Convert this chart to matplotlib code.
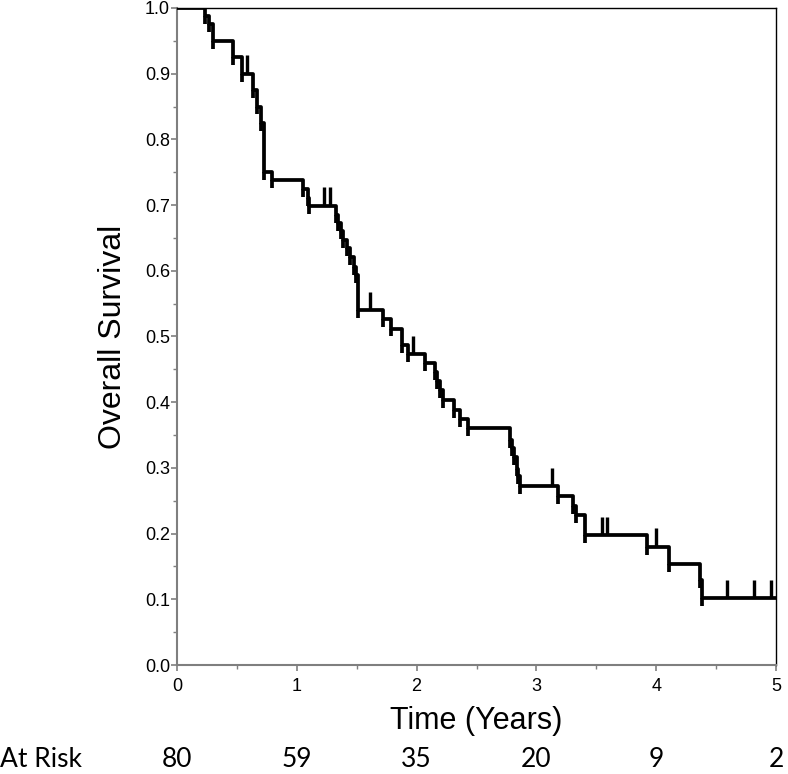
import numpy as np
import matplotlib.pyplot as plt
from matplotlib.transforms import blended_transform_factory

# Kaplan-Meier steps (time in years, survival after the drop)
times = [0, 0.234, 0.27, 0.30, 0.465, 0.54, 0.637, 0.67, 0.70, 0.725,
         0.795, 1.05, 1.09, 1.105, 1.327, 1.347, 1.366, 1.383, 1.416, 1.444,
         1.477, 1.494, 1.513, 1.72, 1.79, 1.88, 1.93, 2.07, 2.15, 2.17,
         2.195, 2.22, 2.31, 2.36, 2.43, 2.78, 2.80, 2.81, 2.84, 2.85,
         2.863, 3.18, 3.308, 3.33, 3.406, 3.92, 4.11, 4.366, 4.38]
surv = [1.0, 0.9875, 0.975, 0.95, 0.925, 0.90, 0.875, 0.85, 0.825, 0.75,
        0.7375, 0.724, 0.711, 0.699, 0.685, 0.672, 0.66, 0.647, 0.634, 0.621,
        0.606, 0.594, 0.540, 0.526, 0.512, 0.487, 0.473, 0.459, 0.446, 0.432,
        0.418, 0.403, 0.388, 0.375, 0.360, 0.342, 0.330, 0.317, 0.299, 0.287,
        0.272, 0.257, 0.242, 0.228, 0.198, 0.180, 0.154, 0.129, 0.1015]
end_time = 5.0

# censored observations
censor_times = [0.585, 1.23, 1.28, 1.61, 1.97, 3.13, 3.55, 3.59, 4.00, 4.59, 4.82, 4.96]

# number at risk
risk_times = [0, 1, 2, 3, 4, 5]
at_risk = [80, 59, 35, 20, 9, 2]

t = np.array(times + [end_time])
s = np.array(surv + [surv[-1]])

fig = plt.figure(figsize=(7.88, 7.74), dpi=100)
ax = fig.add_axes([0.2246, 0.1408, 0.7602, 0.8489])

lw = 2.7
ax.step(t, s, where='post', color='black', lw=lw, solid_capstyle='butt', zorder=3)

# small overshoot below each drop, as in the original rendering
ax.vlines(times[1:], np.array(surv[1:]) - 0.012, surv[1:], color='black', lw=lw, zorder=3)

# censor ticks drawn upward from the curve
idx = np.searchsorted(times, censor_times, side='right') - 1
cens_s = np.array(surv)[idx]
ax.vlines(censor_times, cens_s, cens_s + 0.028, color='black', lw=lw * 0.9, zorder=3)

ax.set_xlim(0, 5)
ax.set_ylim(0, 1.0)
ax.set_xticks(np.arange(0, 6, 1))
ax.set_xticks(np.arange(0.5, 5, 1), minor=True)
ax.set_yticks(np.arange(0, 1.01, 0.1))
ax.set_yticks(np.arange(0.05, 1.0, 0.1), minor=True)
ax.set_yticklabels([f"{v:.1f}" for v in np.arange(0, 1.01, 0.1)])

for side in ['left', 'bottom']:
    ax.spines[side].set_color('#7f7f7f')
    ax.spines[side].set_linewidth(1.5)
for side in ['top', 'right']:
    ax.spines[side].set_color('black')
    ax.spines[side].set_linewidth(1.0)

ax.tick_params(which='major', direction='out', length=4, width=1.2, color='#7f7f7f',
               labelsize=13)
ax.tick_params(axis='y', which='major', pad=1)
ax.tick_params(axis='x', which='major', pad=5)
ax.tick_params(which='minor', direction='out', length=3, width=1.0, color='#7f7f7f')
for lab in ax.get_xticklabels() + ax.get_yticklabels():
    lab.set_family('Liberation Sans')

ax.set_ylabel('Overall Survival', fontsize=23, family='Liberation Sans', labelpad=12)
ax.set_xlabel('Time (Years)', fontsize=22, family='Liberation Sans', labelpad=8)

# at-risk table under the axis
trans = blended_transform_factory(ax.transData, fig.transFigure)
fig.text(0.0, 0.009, 'At Risk', fontsize=19, family='Lato', ha='left', va='baseline')
for x, n in zip(risk_times, at_risk):
    ax.text(x, 0.009, str(n), transform=trans, fontsize=19, family='Lato',
            ha='center', va='baseline')

fig.savefig('out.png', dpi=100)
